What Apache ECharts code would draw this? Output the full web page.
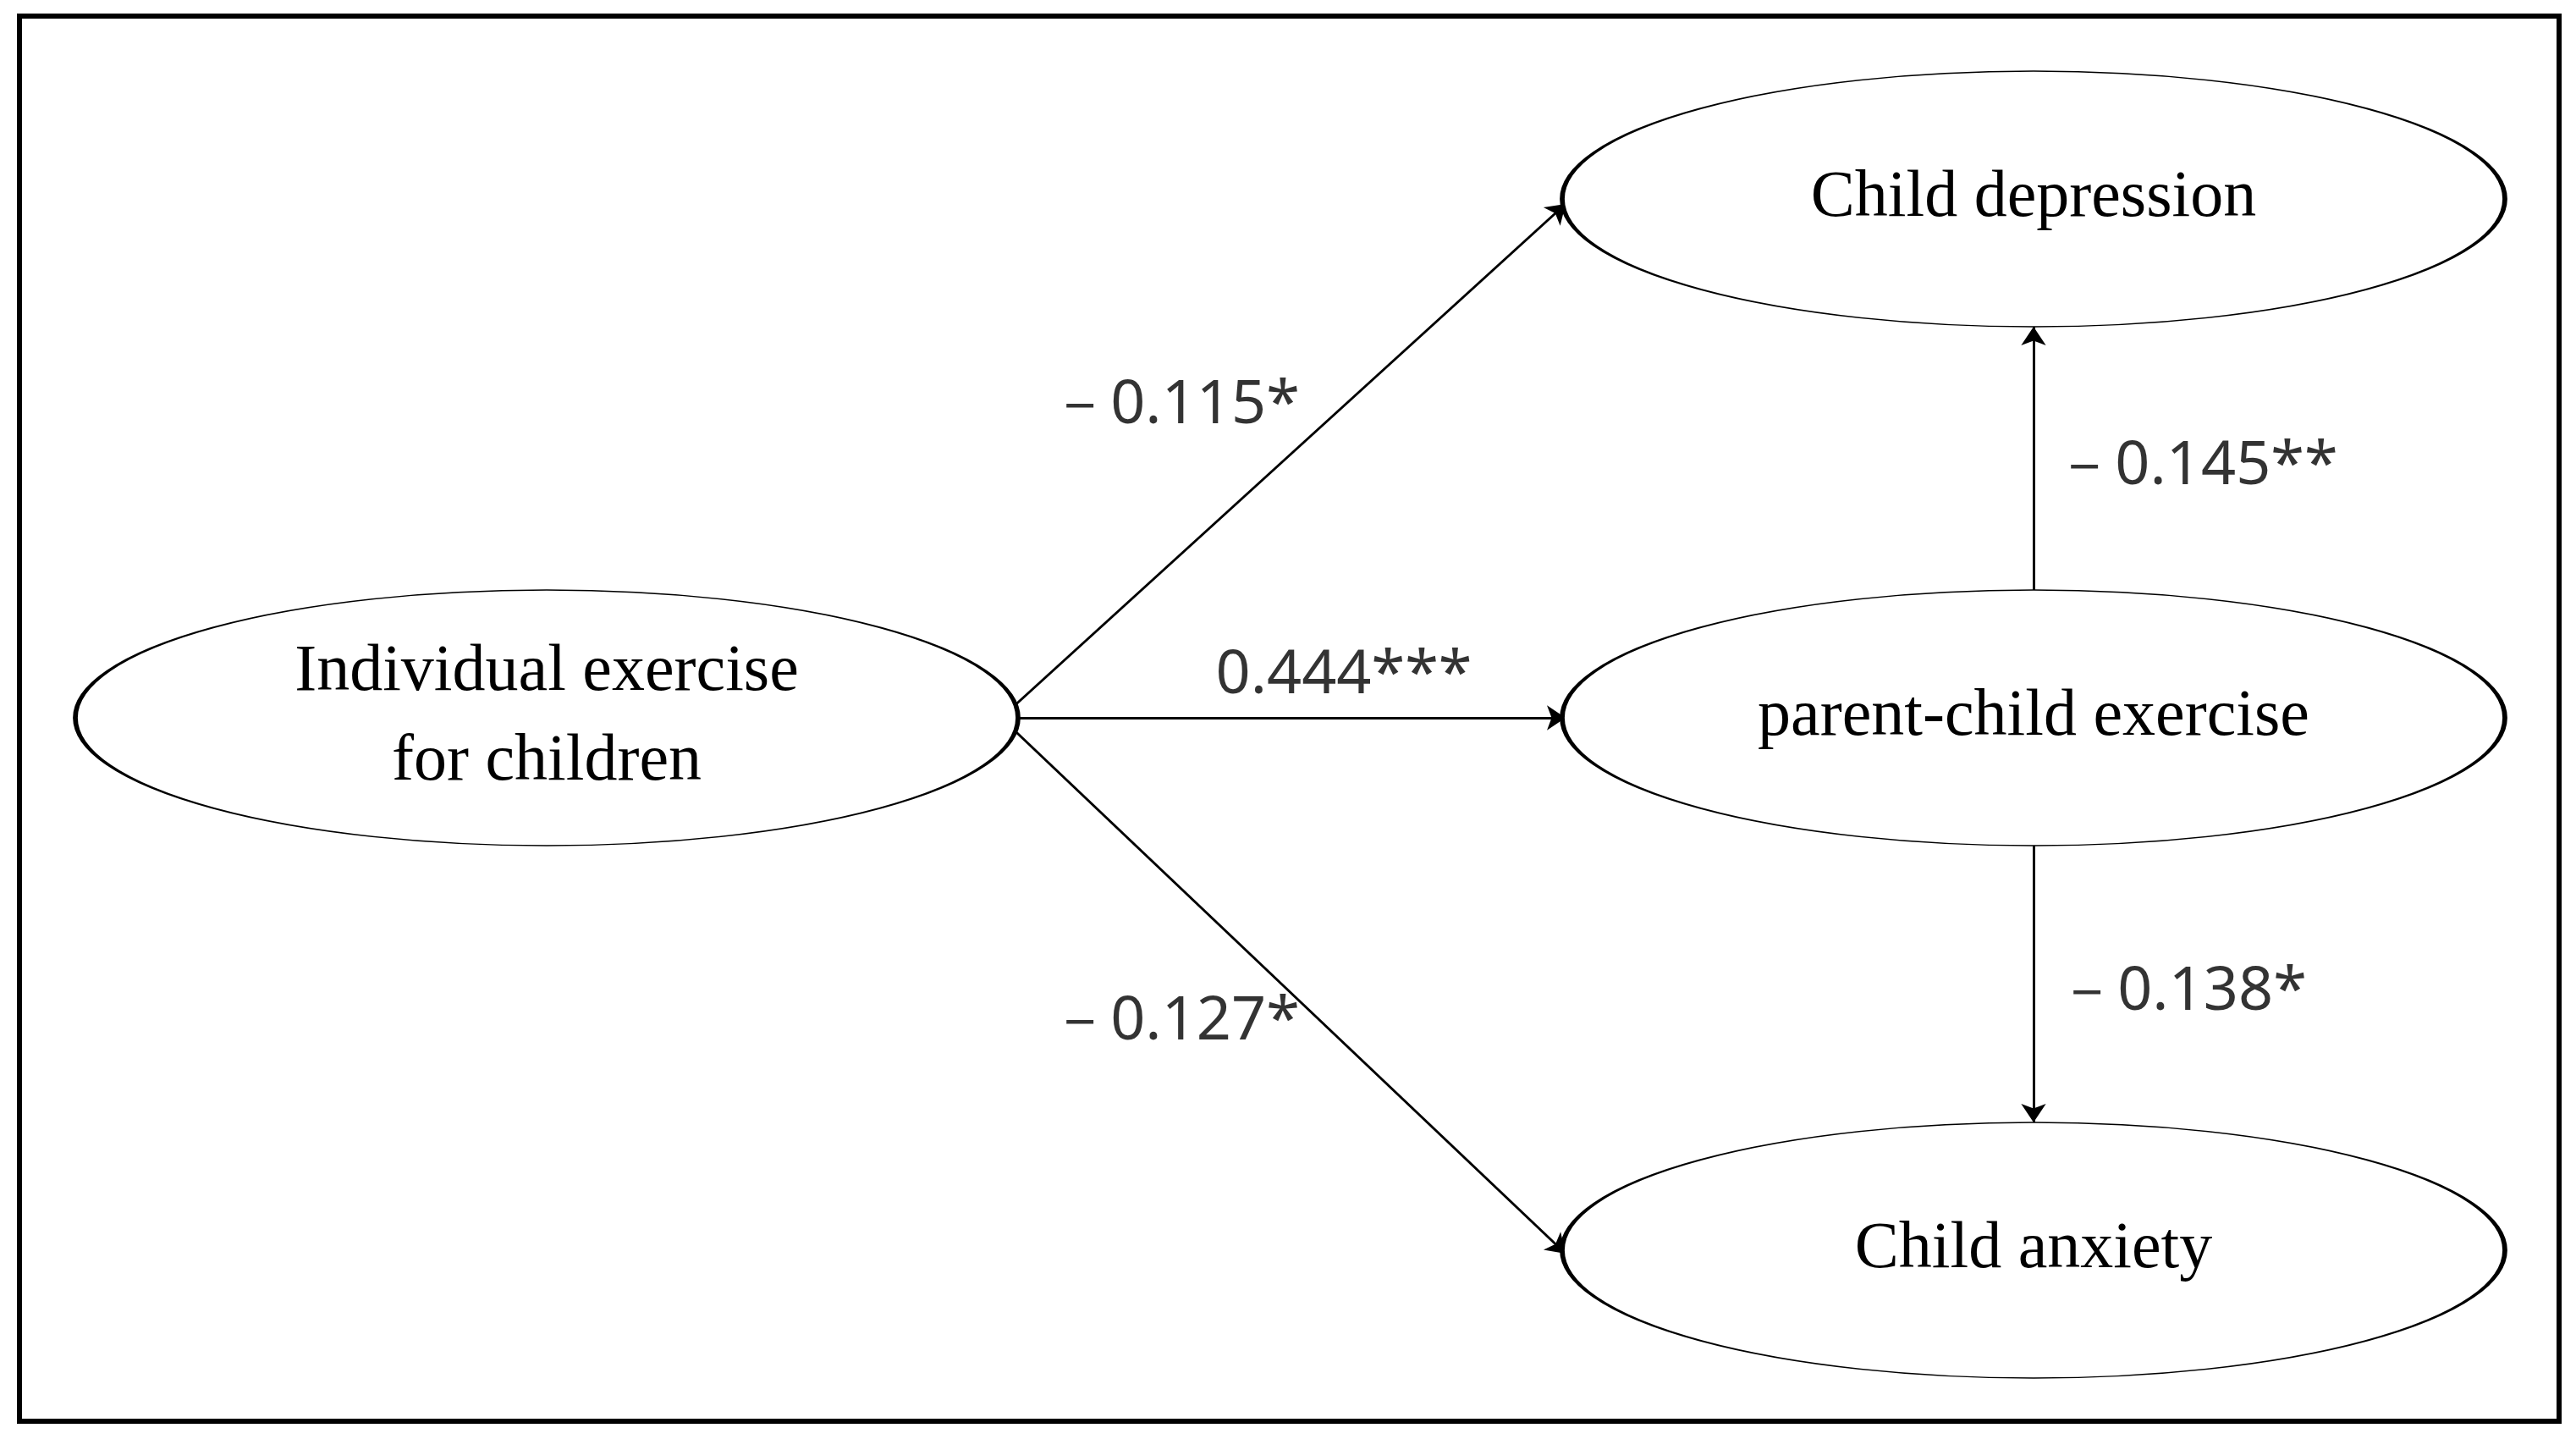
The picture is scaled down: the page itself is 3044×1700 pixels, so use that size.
<!DOCTYPE html>
<html><head><meta charset="utf-8">
<script src="https://cdn.jsdelivr.net/npm/echarts@6/dist/echarts.min.js"></script>
<style>html,body{margin:0;padding:0;background:#fff}#c{width:3044px;height:1700px}</style>
</head><body><div id="c"></div>
<script>
const nodeNames = ['Individual exercise\nfor children','Child depression','parent-child exercise','Child anxiety'];
const nodeX = [646, 2403, 2403, 2403];
const nodeY = [848, 235, 848, 1477];
const edgeFrom = [0, 0, 0, 2, 2];
const edgeTo = [1, 2, 3, 1, 3];
const edgeLabels = ['－0.115*', '0.444***', '－0.127*', '－0.145**', '－0.138*'];
const labelX = [1388, 1588, 1388, 2595, 2578];
const labelY = [479, 798, 1207, 551, 1172];

const RX = 557, RY = 151;
function edgePoint(i, j) {
  const dx = nodeX[j]-nodeX[i], dy = nodeY[j]-nodeY[i];
  const t = 1/Math.sqrt((dx*dx)/(RX*RX)+(dy*dy)/(RY*RY));
  return [nodeX[i]+dx*t, nodeY[i]+dy*t];
}
const lineData = edgeFrom.map((f,k)=>{
  const t = edgeTo[k];
  let a, b;
  if (f===0) { a=[nodeX[0]+RX-20, nodeY[0]]; b=[nodeX[t]-RX+4, nodeY[t]+(t===1?6:(t===3?4:0))]; }
  else { a=edgePoint(f,t); b=edgePoint(t,f); }
  return {coords:[a,b]};
});
const chart = echarts.init(document.getElementById('c'));
chart.setOption({
  animation:false,
  grid:{left:0,right:0,top:0,bottom:0},
  xAxis:{type:'value',min:0,max:3044,show:false},
  yAxis:{type:'value',min:0,max:1700,inverse:true,show:false},
  graphic:[{type:'rect',shape:{x:23,y:19,width:3001,height:1660},style:{fill:'none',stroke:'#000',lineWidth:6}}],
  series:[
    {type:'lines',coordinateSystem:'cartesian2d',z:2,
     symbol:['none','arrow'],symbolSize:22,
     lineStyle:{color:'#000',width:3,opacity:1},
     data:lineData},
    {type:'scatter',z:3,symbol:'circle',symbolSize:[RX*2,RY*2],
     itemStyle:{color:'#fff',borderColor:'#000',borderWidth:3,opacity:1},
     label:{show:true,position:'inside',color:'#000',fontFamily:'Liberation Serif',fontSize:78,lineHeight:106,formatter:p=>nodeNames[p.dataIndex]},
     data:nodeX.map((x,i)=>[x,nodeY[i]])},
    {type:'scatter',z:4,symbolSize:0,
     label:{show:true,position:'inside',color:'#000',fontFamily:'Noto Sans',fontSize:72,formatter:p=>edgeLabels[p.dataIndex]},
     data:labelX.map((x,i)=>[x,labelY[i]])}
  ]
});
</script></body></html>
